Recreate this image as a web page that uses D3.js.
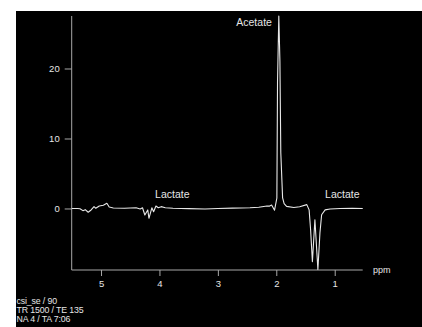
<!DOCTYPE html>
<html><head><meta charset="utf-8">
<script src="https://cdn.jsdelivr.net/npm/d3@7"></script>
<style>html,body{margin:0;padding:0;background:#fff;overflow:hidden}svg{display:block}</style>
</head><body>
<script>
const ppm = [5.50,5.40,5.36,5.31,5.27,5.22,5.17,5.12,5.09,5.03,4.96,4.90,4.86,4.79,4.60,4.40,4.33,4.29,4.25,4.20,4.18,4.13,4.10,4.06,4.02,3.97,3.90,3.77,3.50,3.22,3.00,2.75,2.45,2.30,2.16,2.12,2.08,2.03,1.99,1.979,1.957,1.938,1.923,1.892,1.866,1.824,1.70,1.60,1.478,1.438,1.413,1.382,1.339,1.288,1.253,1.224,1.164,1.079,0.908,0.70,0.52];
const intensity = [0,0,-0.03,-0.31,-0.17,-0.54,-0.21,0.26,0.03,0.36,0.46,0.74,0.21,0.07,0.03,0.10,-0.07,0.10,-0.93,-0.21,-1.40,0.10,-0.46,0.36,0.11,0.26,0.11,0.03,-0.02,-0.07,0.00,0.05,0.10,0.18,0.36,0.33,0.50,-0.25,1.5,18,27.5,21,8,1.5,0.7,0.3,0.15,0.25,0.55,-0.2,-3,-7.6,-1.6,-8.7,-3.5,-0.9,-0.2,-0.07,0,0.02,0];
const xTicks = [5,4,3,2,1];
const yTicks = [0,10,20];
const labels = [
  {text:"Acetate", ppm:2.38, val:26.0},
  {text:"Lactate", ppm:3.78, val:1.5},
  {text:"Lactate", ppm:0.87, val:1.5}
];
const infoLines = ["csi_se / 90","TR 1500 / TE 135","NA 4 / TA 7:06"];

const W=422,H=327;
const svg=d3.select("body").append("svg").attr("width",W).attr("height",H);
svg.append("rect").attr("x",16).attr("y",11).attr("width",W-16).attr("height",H-11).attr("fill","#000");

const x=d3.scaleLinear().domain([5.502,0.521]).range([71.7,362.7]);
const y=d3.scaleLinear().domain([-8.79,27.5]).range([270,16]);
const axisCol="#a8a8a8", textCol="#e6e6e6";
const font="'Liberation Sans', Arial, sans-serif";

const gx=svg.append("g").attr("transform","translate(0,270)")
  .call(d3.axisBottom(x).tickValues(xTicks).tickSize(6).tickPadding(4).tickFormat(d3.format("d")));
gx.select(".domain").attr("stroke",axisCol).attr("d",`M${x.range()[0]},0H${x.range()[1]}`);
gx.selectAll(".tick line").attr("stroke",axisCol);
gx.selectAll(".tick text").attr("fill",textCol).style("font-family",font).style("font-size","9.5px");

const gy=svg.append("g").attr("transform","translate(71.7,0)")
  .call(d3.axisLeft(y).tickValues(yTicks).tickSize(7).tickPadding(5));
gy.select(".domain").attr("stroke",axisCol).attr("d",`M0,${y.range()[0]}V${y.range()[1]}`);
gy.selectAll(".tick line").attr("stroke",axisCol);
gy.selectAll(".tick text").attr("fill",textCol).style("font-family",font).style("font-size","9.5px");

svg.append("text").attr("x",373).attr("y",273).attr("fill",textCol)
  .style("font-family",font).style("font-size","9px").text("ppm");

const line=d3.line().x((d,i)=>x(ppm[i])).y(d=>y(d));
svg.append("path").datum(intensity).attr("d",line).attr("fill","none")
  .attr("stroke","#e8e8e8").attr("stroke-width",1.1).attr("stroke-linejoin","round");

svg.selectAll("text.lab").data(labels).enter().append("text").attr("class","lab")
  .attr("x",d=>x(d.ppm)).attr("y",d=>y(d.val)).attr("text-anchor","middle")
  .attr("fill",textCol).style("font-family",font).style("font-size","10.5px").text(d=>d.text);

svg.selectAll("text.info").data(infoLines).enter().append("text").attr("class","info")
  .attr("x",16.5).attr("y",(d,i)=>304+i*9.2).attr("fill",textCol)
  .style("font-family",font).style("font-size","8.8px").style("letter-spacing","-0.15px").text(d=>d);
</script>
</body></html>
